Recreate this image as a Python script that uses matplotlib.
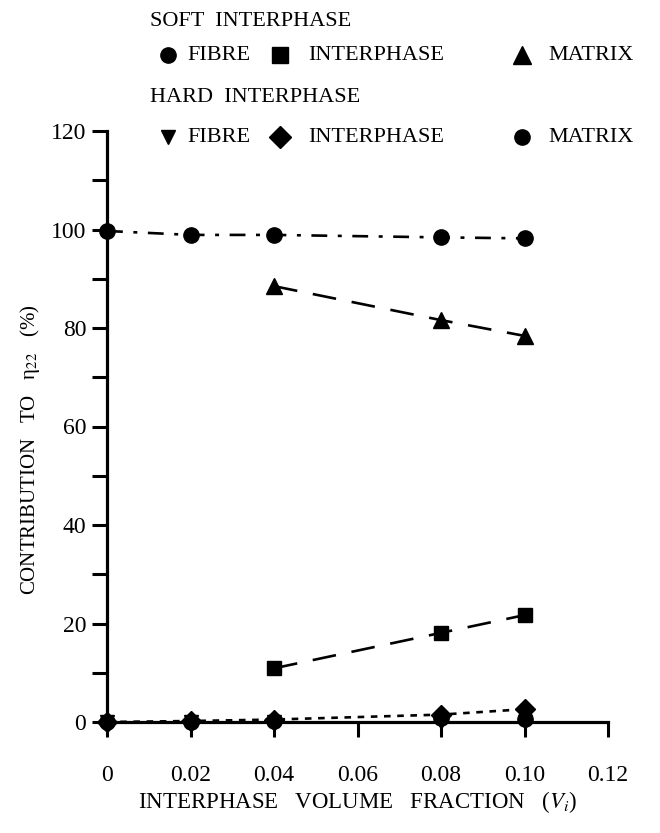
import matplotlib
matplotlib.use("Agg")
import matplotlib.pyplot as plt
from matplotlib.lines import Line2D

plt.rcParams['font.family'] = ['Liberation Serif', 'DejaVu Serif']
plt.rcParams['mathtext.fontset'] = 'stix'

# Data
vf_all = [0.0, 0.02, 0.04, 0.08, 0.10]
vf_part = [0.04, 0.08, 0.10]
soft_fibre = [99.7, 98.9, 98.9, 98.4, 98.2]
soft_interphase = [10.9, 18.1, 21.7]
soft_matrix = [88.5, 81.6, 78.4]
hard_fibre = [0.0, 0.0, 0.0, 0.0, 0.0]
hard_interphase = [0.0, 0.2, 0.5, 1.5, 2.6]
hard_matrix = [0.0, 0.0, 0.3, 0.9, 0.6]

xticks = [0, 0.02, 0.04, 0.06, 0.08, 0.10, 0.12]
xticklabels = ["0", "0.02", "0.04", "0.06", "0.08", "0.10", "0.12"]
yticks = [0, 20, 40, 60, 80, 100, 120]
legend_names = ["FIBRE", "INTERPHASE", "MATRIX"]

W, H = 660, 833
fig = plt.figure(figsize=(W / 100, H / 100), dpi=100)
x0, x1, y0, y1 = 107, 608, 722, 131
ax = fig.add_axes([x0 / W, 1 - y0 / H, (x1 - x0) / W, (y0 - y1) / H])

lw = 1.9
ax.plot(vf_all, soft_fibre, color='black', lw=lw, dashes=(6, 4, 1.5, 4),
        marker='o', ms=11, clip_on=False, zorder=3)
ax.plot(vf_part, soft_matrix, color='black', lw=lw, dashes=(9, 6),
        marker='^', ms=11, clip_on=False, zorder=3)
ax.plot(vf_part, soft_interphase, color='black', lw=lw, dashes=(9, 6),
        marker='s', ms=10, clip_on=False, zorder=3)
ax.plot(vf_all, hard_interphase, color='black', lw=lw, dashes=(2.5, 2.5),
        marker='D', ms=10, clip_on=False, zorder=3)
ax.plot(vf_all, hard_matrix, color='black', lw=0, marker='o', ms=11,
        clip_on=False, zorder=3)
ax.plot(vf_all, hard_fibre, color='black', lw=0, marker='v', ms=10,
        clip_on=False, zorder=3)

ax.set_xlim(0, 0.12)
ax.set_ylim(0, 120)
ax.set_xticks(xticks)
ax.set_xticklabels(xticklabels)
ax.set_yticks(yticks)
ax.set_yticks([10, 30, 50, 70, 90, 110], minor=True)

for s in ['top', 'right']:
    ax.spines[s].set_visible(False)
for s in ['left', 'bottom']:
    ax.spines[s].set_linewidth(2.3)

ax.tick_params(axis='both', which='both', direction='out', length=11,
               width=2.2, labelsize=17)
ax.tick_params(axis='x', pad=20)
ax.tick_params(axis='y', pad=4)

ax.set_xlabel(r"INTERPHASE   VOLUME   FRACTION   ($V_i$)", fontsize=16.5, labelpad=2)
ax.set_ylabel("CONTRIBUTION   TO   η$_{22}$   (%)", fontsize=15)
ax.yaxis.set_label_coords(-0.13, 0.46)

# Manual legend (figure pixel positions)
def fx(px):
    return px / W

def fy(py):
    return 1 - py / H

lfs = 16
rows = [
    ("SOFT  INTERPHASE", 22, 55, [('o', 11), ('s', 11), ('^', 13)]),
    ("HARD  INTERPHASE", 97, 137, [('v', 10), ('D', 11), ('o', 11)]),
]
marker_x = [168, 280, 522]
text_x = [187, 308, 548]
for title, ty, ry, mk in rows:
    fig.text(fx(150), fy(ty), title, fontsize=lfs, va='center', ha='left')
    for (m, ms), mx, tx, name in zip(mk, marker_x, text_x, legend_names):
        fig.add_artist(Line2D([fx(mx)], [fy(ry)], transform=fig.transFigure,
                              marker=m, ms=ms, color='black', lw=0))
        fig.text(fx(tx), fy(ry), name, fontsize=lfs, va='center', ha='left')

fig.savefig("out.png", dpi=100)
